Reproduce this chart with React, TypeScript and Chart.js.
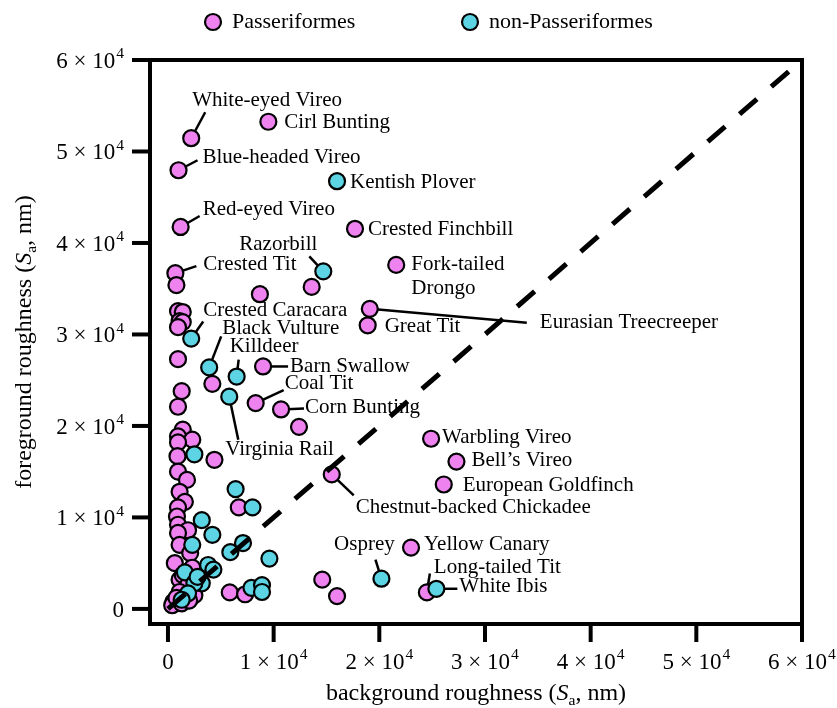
import React, { useEffect, useRef } from 'react';
import { Chart, registerables } from 'chart.js';
Chart.register(...registerables);

// ---------- data ----------
const passerX = [2200, 9500, 1000, 1200, 17700, 700, 800, 21600, 13600, 8700, 19100, 18900, 950, 1400, 1100, 1400, 950, 950, 9000, 4200, 1300, 950, 8300, 10700, 12400, 1400, 950, 2300, 950, 4400, 900, 950, 1800, 1100, 1600, 950, 850, 950, 1900, 15500, 6700, 24900, 27300, 26100, 23000, 24500, 14600, 16000, 5850, 7300, 950, 1100, 2100, 650, 1100, 1400, 2300, 1900, 500, 1100, 1600, 2500, 400, 1300, 800, 2000];
const passerY = [51450, 53250, 47950, 41750, 41550, 36700, 35400, 37600, 35200, 34400, 32800, 31000, 32550, 32450, 31450, 31350, 30800, 27300, 26500, 24600, 23800, 22100, 22500, 21800, 19900, 19600, 18850, 18500, 18200, 16300, 16700, 15000, 14100, 12800, 11700, 11100, 10100, 9200, 8600, 14700, 11100, 18600, 16100, 13600, 6700, 1800, 3200, 1400, 1800, 1600, 8300, 7000, 6100, 5000, 3200, 3700, 4500, 2600, 750, 1850, 1300, 1500, 400, 600, 1200, 900];
const passerNames = ['White-eyed Vireo', 'Cirl Bunting', 'Blue-headed Vireo', 'Red-eyed Vireo', 'Crested Finchbill', 'Crested Tit', '', 'Fork-tailed\nDrongo', '', '', 'Eurasian Treecreeper', 'Great Tit', '', '', '', '', '', '', 'Barn Swallow', '', '', '', 'Coal Tit', 'Corn Bunting', '', '', '', '', '', '', '', '', '', '', '', '', '', '', '', 'Chestnut-backed Chickadee', '', 'Warbling Vireo', 'Bell\u2019s Vireo', 'European Goldfinch', 'Yellow Canary', 'Long-tailed Tit', '', '', '', '', '', '', '', '', '', '', '', '', '', '', '', '', '', '', '', ''];

const nonPasserX = [16000, 14700, 2200, 3900, 6500, 5800, 2500, 6400, 8000, 3200, 4200, 7100, 5900, 9600, 20200, 25400, 7900, 8900, 8900, 2300, 1600, 3800, 4300, 3200, 2500, 1900, 1300, 2800];
const nonPasserY = [46750, 36900, 29550, 26400, 25400, 23200, 16900, 13100, 11100, 9700, 8100, 7200, 6200, 5500, 3300, 2200, 2300, 2600, 1850, 7000, 4000, 4800, 4300, 2800, 2800, 1700, 1000, 3500];
const nonPasserNames = ['Kentish Plover', 'Razorbill', 'Crested Caracara', 'Black Vulture', 'Killdeer', 'Virginia Rail', '', '', '', '', '', '', '', '', 'Osprey', 'White Ibis', '', '', '', '', '', '', '', '', '', '', '', ''];

const diagX = [0, 60000];
const diagY = [0, 60000];

const xTicks = [0, 10000, 20000, 30000, 40000, 50000, 60000];
const yTicks = [0, 10000, 20000, 30000, 40000, 50000, 60000];

const seriesNames = ['Passeriformes', 'non-Passeriformes'];

// ---------- styles ----------
const SERIF = '"Liberation Serif", "Times New Roman", serif';
const PINK = '#EE82EE';
const CYAN = '#5CD4E4';
const PT_R = 8;
const PT_BW = 2.2;

type Layout = { dx: number; dy: number; align?: CanvasTextAlign; lead?: [number, number] };
const labelLayout: Record<string, Layout> = {
  'White-eyed Vireo': { dx: 1, dy: -38, lead: [14, -26] },
  'Cirl Bunting': { dx: 16, dy: 1 },
  'Blue-headed Vireo': { dx: 24, dy: -13, lead: [19, -10] },
  'Kentish Plover': { dx: 13, dy: 1 },
  'Red-eyed Vireo': { dx: 22, dy: -17, lead: [19, -11] },
  'Crested Finchbill': { dx: 13, dy: 1 },
  'Razorbill': { dx: -45, dy: -27, align: 'center', lead: [-14, -15] },
  'Crested Tit': { dx: 28, dy: -9, lead: [21, -7] },
  'Fork-tailed\nDrongo': { dx: 15, dy: 0 },
  'Eurasian Treecreeper': { dx: 170, dy: 14, lead: [157, 14] },
  'Great Tit': { dx: 17, dy: 1 },
  'Crested Caracara': { dx: 12, dy: -28, lead: [12, -17] },
  'Black Vulture': { dx: 13, dy: -39, lead: [12, -31] },
  'Killdeer': { dx: -7, dy: -30, lead: [2, -17] },
  'Barn Swallow': { dx: 27, dy: 0, lead: [25, 0] },
  'Coal Tit': { dx: 29, dy: -20, lead: [28, -13] },
  'Corn Bunting': { dx: 24, dy: -2, lead: [23, -1] },
  'Virginia Rail': { dx: -4, dy: 53, lead: [9, 43] },
  'Chestnut-backed Chickadee': { dx: 24, dy: 33, lead: [22, 21] },
  'Warbling Vireo': { dx: 11, dy: -1 },
  'Bell\u2019s Vireo': { dx: 15, dy: -1 },
  'European Goldfinch': { dx: 19, dy: 1 },
  'Osprey': { dx: -17, dy: -34, align: 'center', lead: [-6, -19] },
  'Yellow Canary': { dx: 13, dy: -3 },
  'Long-tailed Tit': { dx: 7, dy: -25, lead: [3, -19] },
  'White Ibis': { dx: 23, dy: -2, lead: [21, 0] },
};

function labeled(chart: any) {
  const xs = chart.scales.x;
  const ys = chart.scales.y;
  const out: { name: string; px: number; py: number }[] = [];
  const add = (X: number[], Y: number[], N: string[]) => {
    X.forEach((x, i) => {
      if (N[i]) out.push({ name: N[i], px: xs.getPixelForValue(x), py: ys.getPixelForValue(Y[i]) });
    });
  };
  add(passerX, passerY, passerNames);
  add(nonPasserX, nonPasserY, nonPasserNames);
  return out;
}

function drawSci(ctx: CanvasRenderingContext2D, v: number, x: number, y: number, align: 'left' | 'center' | 'right', size: number) {
  ctx.fillStyle = '#000';
  ctx.textBaseline = 'alphabetic';
  if (v === 0) {
    ctx.font = `${size}px ${SERIF}`;
    ctx.textAlign = align;
    ctx.fillText('0', x, y);
    return;
  }
  const base = `${v / 10000} \u00D7 10`;
  const sup = '4';
  ctx.font = `${size}px ${SERIF}`;
  const wb = ctx.measureText(base).width;
  ctx.font = `${size * 0.68}px ${SERIF}`;
  const ws = ctx.measureText(sup).width;
  const total = wb + 1 + ws;
  const start = align === 'left' ? x : align === 'center' ? x - total / 2 : x - total;
  ctx.textAlign = 'left';
  ctx.font = `${size}px ${SERIF}`;
  ctx.fillText(base, start, y);
  ctx.font = `${size * 0.68}px ${SERIF}`;
  ctx.fillText(sup, start + wb + 1, y - size * 0.42);
}

function drawTitle(ctx: CanvasRenderingContext2D, prefix: string, cx: number, y: number, size: number) {
  const segs = [
    { t: prefix + ' (', f: `${size}px ${SERIF}`, dy: 0 },
    { t: 'S', f: `italic ${size}px ${SERIF}`, dy: 0 },
    { t: 'a', f: `${size * 0.65}px ${SERIF}`, dy: size * 0.22 },
    { t: ', nm)', f: `${size}px ${SERIF}`, dy: 0 },
  ];
  let total = 0;
  const widths = segs.map((s) => {
    ctx.font = s.f;
    const w = ctx.measureText(s.t).width;
    total += w;
    return w;
  });
  let x = cx - total / 2;
  ctx.textAlign = 'left';
  ctx.textBaseline = 'alphabetic';
  ctx.fillStyle = '#000';
  segs.forEach((s, i) => {
    ctx.font = s.f;
    ctx.fillText(s.t, x, y + s.dy);
    x += widths[i];
  });
}

const decorPlugin = {
  id: 'decor',
  beforeDatasetsDraw(chart: any) {
    const ctx: CanvasRenderingContext2D = chart.ctx;
    ctx.save();
    ctx.strokeStyle = '#000';
    ctx.lineWidth = 2.5;
    labeled(chart).forEach(({ name, px, py }) => {
      const L = labelLayout[name];
      if (!L || !L.lead) return;
      ctx.beginPath();
      ctx.moveTo(px, py);
      ctx.lineTo(px + L.lead[0], py + L.lead[1]);
      ctx.stroke();
    });
    ctx.restore();
  },
  afterDatasetsDraw(chart: any) {
    const ctx: CanvasRenderingContext2D = chart.ctx;
    ctx.save();
    ctx.fillStyle = '#000';
    ctx.font = `21px ${SERIF}`;
    ctx.textBaseline = 'middle';
    labeled(chart).forEach(({ name, px, py }) => {
      const L = labelLayout[name];
      if (!L) return;
      ctx.textAlign = L.align || 'left';
      name.split('\n').forEach((line, k) => {
        ctx.fillText(line, px + L.dx, py + L.dy + k * 24);
      });
    });
    ctx.restore();
  },
  afterDraw(chart: any) {
    const ctx: CanvasRenderingContext2D = chart.ctx;
    const a = chart.chartArea;
    const xs = chart.scales.x;
    const ys = chart.scales.y;
    ctx.save();
    // frame
    ctx.strokeStyle = '#000';
    ctx.lineWidth = 4;
    ctx.strokeRect(a.left, a.top, a.right - a.left, a.bottom - a.top);
    // ticks
    ctx.lineCap = 'butt';
    xTicks.forEach((v) => {
      const px = xs.getPixelForValue(v);
      ctx.beginPath();
      ctx.moveTo(px, a.bottom + 2);
      ctx.lineTo(px, a.bottom + 18);
      ctx.stroke();
      drawSci(ctx, v, px, 669, 'center', 23);
    });
    yTicks.forEach((v) => {
      const py = ys.getPixelForValue(v);
      ctx.beginPath();
      ctx.moveTo(a.left - 2, py);
      ctx.lineTo(a.left - 18, py);
      ctx.stroke();
      drawSci(ctx, v, 124, py + 8, 'right', 23);
    });
    // axis titles
    drawTitle(ctx, 'background roughness', (a.left + a.right) / 2, 700, 24);
    ctx.save();
    ctx.translate(31, (a.top + a.bottom) / 2);
    ctx.rotate(-Math.PI / 2);
    drawTitle(ctx, 'foreground roughness', 0, 0, 24);
    ctx.restore();
    // legend
    const items = [
      { name: seriesNames[0], color: PINK, cx: 213 },
      { name: seriesNames[1], color: CYAN, cx: 470 },
    ];
    items.forEach((it) => {
      ctx.beginPath();
      ctx.arc(it.cx, 22, PT_R, 0, Math.PI * 2);
      ctx.fillStyle = it.color;
      ctx.fill();
      ctx.lineWidth = PT_BW;
      ctx.strokeStyle = '#000';
      ctx.stroke();
      ctx.fillStyle = '#000';
      ctx.font = `22px ${SERIF}`;
      ctx.textAlign = 'left';
      ctx.textBaseline = 'middle';
      ctx.fillText(it.name, it.cx + 19, 22);
    });
    ctx.restore();
  },
};

export default function App() {
  const ref = useRef<HTMLCanvasElement>(null);
  useEffect(() => {
    document.body.style.margin = '0';
    const canvas = ref.current;
    if (!canvas) return;
    const chart = new Chart(canvas, {
      type: 'scatter',
      data: {
        datasets: [
          {
            type: 'line',
            label: 'y = x',
            data: diagX.map((x, i) => ({ x, y: diagY[i] })),
            borderColor: '#000',
            borderWidth: 5,
            borderDash: [23, 19],
            pointRadius: 0,
            fill: false,
            order: 0,
          } as any,
          {
            label: seriesNames[1],
            data: nonPasserX.map((x, i) => ({ x, y: nonPasserY[i] })),
            backgroundColor: CYAN,
            borderColor: '#000',
            borderWidth: PT_BW,
            pointRadius: PT_R,
            order: 1,
          },
          {
            label: seriesNames[0],
            data: passerX.map((x, i) => ({ x, y: passerY[i] })),
            backgroundColor: PINK,
            borderColor: '#000',
            borderWidth: PT_BW,
            pointRadius: PT_R,
            order: 2,
          },
        ],
      },
      options: {
        responsive: false,
        animation: false,
        events: [],
        layout: { padding: { left: 150, right: 35, top: 60, bottom: 84 } },
        scales: {
          x: { type: 'linear', min: -1700, max: 60000, display: false },
          y: { type: 'linear', min: -1650, max: 60000, display: false },
        },
        plugins: { legend: { display: false }, tooltip: { enabled: false } },
      },
      plugins: [decorPlugin],
    });
    return () => chart.destroy();
  }, []);
  return <canvas ref={ref} width={837} height={708} style={{ display: 'block' }} />;
}
